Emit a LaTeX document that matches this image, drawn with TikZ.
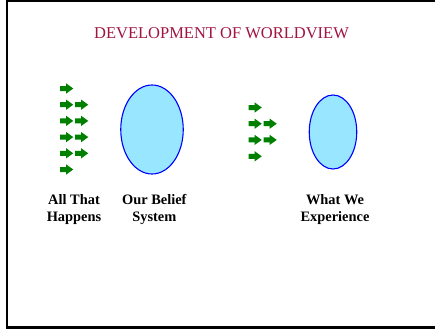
\documentclass[tikz,border=0pt]{standalone}
\usepackage{xcolor}
\usepackage{fontspec}
\setmainfont{Liberation Serif}
\usepackage{tikz}
\usetikzlibrary{shapes.geometric}

\definecolor{titlered}{RGB}{160,20,64}
\definecolor{arrowgreen}{RGB}{0,128,0}
\definecolor{bubble}{RGB}{152,230,255}

\tikzset{
  event/.pic={\fill[arrowgreen] (-6.5,-2.5) -- (-0.5,-2.5) -- (-0.5,-5.2) -- (6.75,0)
    -- (-0.5,5.2) -- (-0.5,2.5) -- (-6.5,2.5) -- cycle;},
  bubble/.style={ellipse, draw=blue, fill=bubble, line width=1.1pt, inner sep=0pt},
  caption/.style={align=center, font=\bfseries\fontsize{14.4}{17}\selectfont}
}

\begin{document}
\begin{tikzpicture}[x=1pt, y=-1pt]
    \useasboundingbox (0,0) rectangle (435,329);
    \draw[line width=2.5pt] (6,1.25) -- (435,1.25);
    \draw[line width=2pt] (7,0) -- (7,328.5);
    \draw[line width=3pt] (6,327) -- (435,327);

    \node[titlered, font=\fontsize{16.5}{19}\selectfont, anchor=base] (title) at (221.5,38) {DEVELOPMENT OF WORLDVIEW};

    \pic (h0) at (66.5,88.5) {event};
    \foreach \i in {1,...,4}{
      \pic (h\i) at (66.5,88.5+16.2*\i) {event};
      \pic (hh\i) at (81.5,88.5+16.2*\i) {event};
    }
    \pic (h5) at (66.5,169.5) {event};

    \node[bubble, minimum width=62.5pt, minimum height=89pt] (belief) at (152,129.5) {};

    \pic (e0) at (255,107.5) {event};
    \foreach \i in {1,2}{
      \pic (e\i) at (255,107.5+16.2*\i) {event};
      \pic (ee\i) at (270,107.5+16.2*\i) {event};
    }
    \pic (e3) at (255,156.3) {event};

    \node[bubble, minimum width=47.5pt, minimum height=74pt] (experience) at (333,132) {};

    \node[caption] (happens) at (74,209.5) {All That\\Happens};
    \node[caption] (system) at (154.3,209.5) {Our Belief\\System};
    \node[caption] (wewhat) at (335,209.5) {What We\\Experience};
  \end{tikzpicture}
\end{document}
